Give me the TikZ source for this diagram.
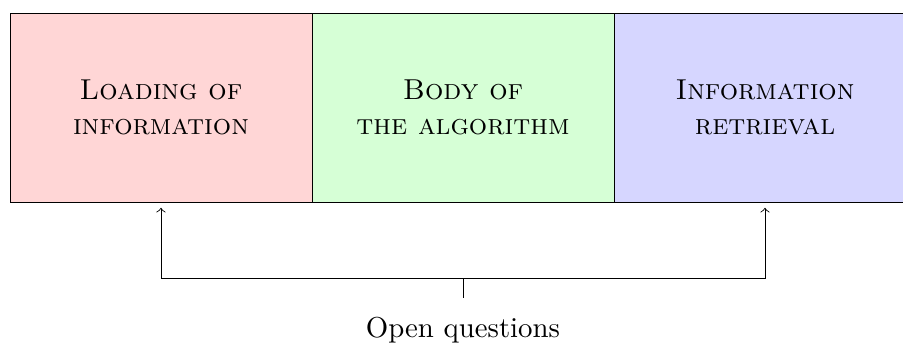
\documentclass[tikz,border=0pt]{standalone}
\usetikzlibrary{positioning,calc}

\tikzset{
  phase/.style={draw, line width=0.3pt, outer sep=0pt, minimum width=3.683cm, minimum height=2.305cm,
                align=center, font=\scshape},
  link/.style={line width=0.3pt, ->, shorten >=2pt}
}

\begin{document}
\begin{tikzpicture}
% Frame of the figure
\clip (0,0) rectangle (11.012,-4.183);

% The three phases
\node[phase, fill=red!16] (load) at (1.963,-1.311) {Loading of\\information};
\node[phase, fill=green!16, right=0pt of load] (body) {Body of\\the algorithm};
\node[phase, fill=blue!16, right=0pt of body] (retr) {Information\\retrieval};

% Open questions
\coordinate (join) at ($(body.south)+(0,-0.927)$);
\node[below=0.244cm of join, inner sep=6.5pt] (ques) {Open questions};
\draw[line width=0.3pt] (join) -- (ques.north);
\draw[link] (join) -| (load.south);
\draw[link] (join) -| (retr.south);
\end{tikzpicture}
\end{document}
